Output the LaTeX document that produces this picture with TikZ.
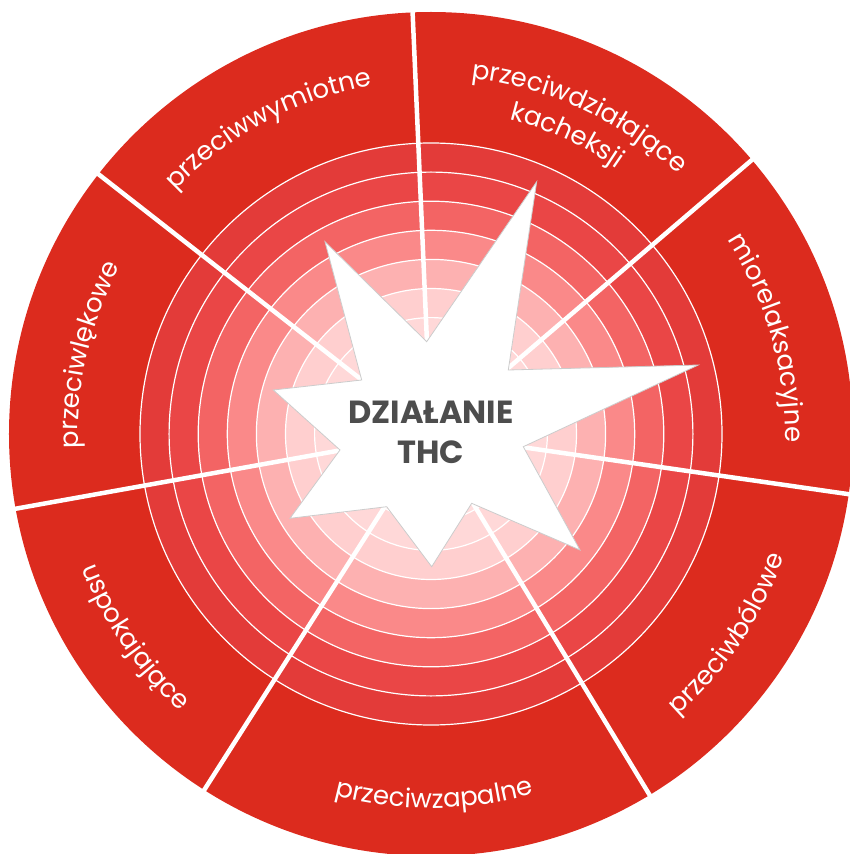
\documentclass[tikz,border=0pt]{standalone}
\usepackage{fontspec}
\setmainfont{Poppins}
\usepackage{tikz}
\usetikzlibrary{decorations.text}

\definecolor{wheelred}{RGB}{220,43,30}
\definecolor{ringA}{RGB}{227,59,57}
\definecolor{ringB}{RGB}{234,70,70}
\definecolor{ringC}{RGB}{243,100,100}
\definecolor{ringD}{RGB}{250,137,137}
\definecolor{ringE}{RGB}{253,177,177}
\definecolor{ringF}{RGB}{255,207,207}
\definecolor{ringG}{RGB}{255,216,216}
\definecolor{ringH}{RGB}{255,222,222}
\definecolor{ringI}{RGB}{255,226,226}
\definecolor{ringJ}{RGB}{255,230,230}
\definecolor{thcgray}{RGB}{77,77,77}

\newcommand{\wheelfont}{\fontsize{26}{31}\selectfont\color{white}}

\begin{document}
\begin{tikzpicture}[x=1pt, y=1pt,
        spoke/.style={white, line width=4.5pt},
        ringline/.style={draw=white, line width=1.2pt},
        wheellabel/.style={decorate, decoration={text along path, text align=center, text={|\wheelfont|#1}}}]
        \useasboundingbox (-431,-420) rectangle (419,434);

        % Wheel and rings
        \fill[wheelred] (0,0) circle[radius=422];
        \foreach \k/\c in {10/ringA, 9/ringB, 8/ringC, 7/ringD, 6/ringE, 5/ringF, 4/ringG, 3/ringH, 2/ringI, 1/ringJ}
            \filldraw[fill=\c, ringline] (0,0) circle[radius=29.1*\k];

        % Spokes
        \foreach \a in {92.5, 40.5, -8.2, -58.8, -122.5, 190.2, 142}
            \draw[spoke] (0,0) -- (\a:440);

        % Labels, upper ones clockwise, lower ones counterclockwise
        \path[wheellabel=przeciwlękowe] (207:353) arc[start angle=207, end angle=127, radius=353];
        \path[wheellabel=przeciwwymiotne] (158:353) arc[start angle=158, end angle=78, radius=353];
        \path[wheellabel=przeciwdziałające] (105:358) arc[start angle=105, end angle=25, radius=358];
        \path[wheellabel=kacheksji] (105.5:324) arc[start angle=105.5, end angle=25.5, radius=324];
        \path[wheellabel=miorelaksacyjne] (56:354) arc[start angle=56, end angle=-24, radius=354];
        \path[wheellabel=przeciwbólowe] (-74:374) arc[start angle=-74, end angle=6, radius=374];
        \path[wheellabel=przeciwzapalne] (-129.5:374) arc[start angle=-129.5, end angle=-49.5, radius=374];
        \path[wheellabel=uspokajające] (-185.5:374) arc[start angle=-185.5, end angle=-105.5, radius=374];

        % Star
        \draw[fill=white, draw=black!20, line width=0.8pt]
            (105.7,252.3) -- (77.3,64) -- (267.3,69) -- (92.3,-12.7) -- (149,-116) -- (40.7,-69.3)
            -- (0.7,-132.7) -- (-44.3,-72.7) -- (-141,-84.3) -- (-91,-16) -- (-157.7,44) -- (-69.3,54)
            -- (-106,192.3) -- (-4.3,92.3) -- cycle;
        \node[font=\fontsize{32}{40}\selectfont\bfseries, text=thcgray, align=center] (thc) at (0,1.5) {DZIAŁANIE\\THC};
\end{tikzpicture}
\end{document}
